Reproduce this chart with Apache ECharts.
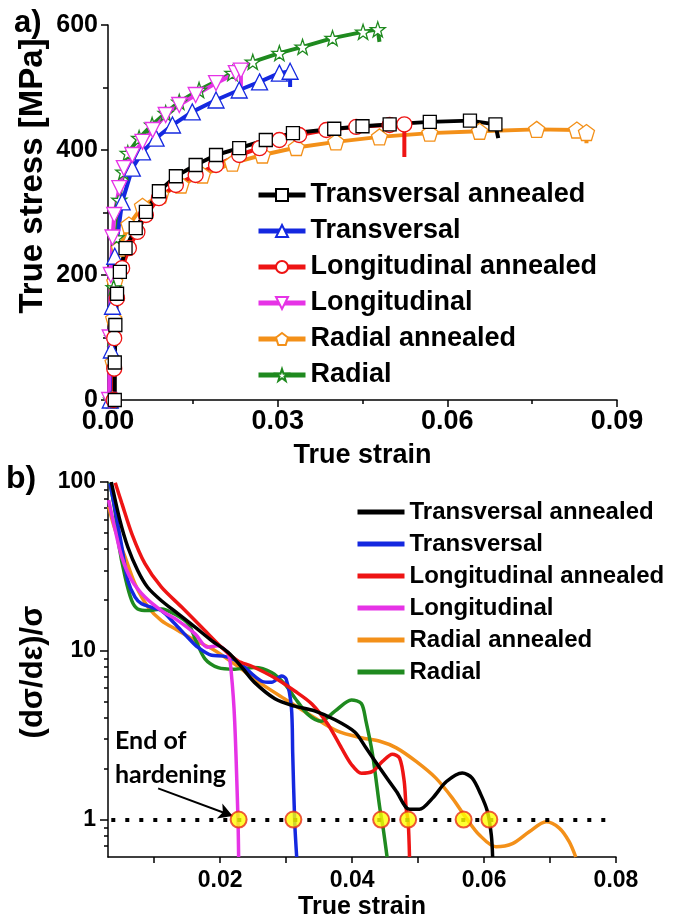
<!DOCTYPE html>
<html>
<head>
<meta charset="utf-8">
<script src="https://cdn.jsdelivr.net/npm/echarts@6/dist/echarts.min.js"></script>
<style>
html,body{margin:0;padding:0;background:#fff;}
#chart{width:697px;height:922px;}
</style>
</head>
<body>
<div id="chart"></div>
<script>
// ---------------- DATA ----------------
const seriesNames = ['Transversal annealed','Transversal','Longitudinal annealed','Longitudinal','Radial annealed','Radial'];

// Panel a) true stress [MPa] vs true strain, [strain, stress]
const stressTransAnn = [[0.0012,0],[0.0012,60],[0.0013,120],[0.0016,170],[0.0021,205],[0.0031,243],[0.0049,275],[0.0067,301],[0.009,334],[0.012,358],[0.0155,376],[0.0191,392],[0.0232,403],[0.0279,416],[0.0327,427],[0.040,434],[0.045,438],[0.0498,441],[0.0569,445],[0.064,447],[0.0685,441],[0.069,419]];
const stressTrans = [[0.0004,0],[0.0006,80],[0.0008,150],[0.0012,230],[0.0025,317],[0.0043,371],[0.0061,397],[0.0085,419],[0.0114,440],[0.0149,461],[0.0191,480],[0.0232,496],[0.0268,509],[0.0303,523],[0.0322,526],[0.0322,501]];
const stressLongAnn = [[0.0010,0],[0.0011,50],[0.0011,99],[0.0016,163],[0.0025,211],[0.0037,243],[0.0052,269],[0.0067,296],[0.009,323],[0.012,344],[0.0155,360],[0.0191,376],[0.0232,392],[0.0268,403],[0.0303,416],[0.0338,424],[0.0386,432],[0.0439,437],[0.0498,440],[0.0524,441],[0.0524,389]];
const stressLong = [[0.0002,0],[0.0003,100],[0.0005,200],[0.0008,260],[0.0011,296],[0.002,339],[0.0028,371],[0.0043,392],[0.0061,413],[0.0079,432],[0.0102,456],[0.0126,472],[0.0155,488],[0.0191,507],[0.0226,523],[0.0235,527],[0.0235,501]];
const stressRadAnn = [[0.0008,0],[0.0009,60],[0.001,130],[0.0012,189],[0.002,243],[0.0037,280],[0.0061,310],[0.0093,328],[0.0129,344],[0.0167,360],[0.022,379],[0.0273,392],[0.0333,404],[0.0403,413],[0.048,421],[0.0569,427],[0.0657,430],[0.0758,433],[0.0829,432],[0.0846,428],[0.0846,411]];
const stressRad = [[0.0006,0],[0.0008,100],[0.001,180],[0.0015,260],[0.002,320],[0.0027,365],[0.0035,395],[0.0055,419],[0.0078,440],[0.0102,459],[0.0126,477],[0.0161,496],[0.022,523],[0.0256,541],[0.0303,555],[0.0344,565],[0.0397,579],[0.0451,589],[0.0477,593],[0.048,573]];

// Panel b) (dσ/dε)/σ vs true strain, [strain, value]
const rateTransAnn = [[0.0035,100],[0.0048,59.4],[0.006,41.2],[0.0075,29.9],[0.009,23.8],[0.0111,19.8],[0.0136,16.6],[0.0162,13.8],[0.0187,11.5],[0.0212,9.8],[0.0235,7.8],[0.0252,6.5],[0.0283,5.2],[0.0313,4.7],[0.0343,4.4],[0.0374,3.9],[0.0404,3.3],[0.0421,2.66],[0.0442,2.02],[0.0467,1.47],[0.0487,1.15],[0.0502,1.15],[0.0522,1.34],[0.0543,1.68],[0.0567,1.89],[0.0582,1.76],[0.0595,1.41],[0.0605,1.12],[0.0611,0.81],[0.0613,0.6]];
const rateTrans = [[0.0033,98],[0.0041,68],[0.0051,41.2],[0.006,26.1],[0.0071,20.8],[0.0081,19],[0.0096,18.1],[0.0111,17.3],[0.0131,14.5],[0.0151,12],[0.0166,10.5],[0.0187,9.4],[0.0205,9.3],[0.0227,8.6],[0.0263,6.6],[0.0278,6.5],[0.0293,7.1],[0.0300,6.8],[0.0308,4.6],[0.0310,2.44],[0.0313,0.97],[0.0316,0.6]];
const rateLongAnn = [[0.0041,99],[0.0051,74.7],[0.0066,49.5],[0.0086,32.8],[0.0111,23.8],[0.0142,18.1],[0.0172,13.8],[0.0202,10.5],[0.0227,8.7],[0.0248,8.1],[0.0283,6.9],[0.0313,5.78],[0.0339,4.84],[0.0363,3.68],[0.0384,2.65],[0.0399,2.12],[0.0414,1.88],[0.0431,1.93],[0.0446,2.21],[0.0461,2.44],[0.0472,2.31],[0.0479,1.68],[0.0482,1.16],[0.0485,0.97],[0.0487,0.6]];
const rateLong = [[0.0031,78],[0.0041,51.8],[0.0051,35.9],[0.0066,26.1],[0.0086,20.8],[0.0111,17.3],[0.0136,15.1],[0.0162,12.6],[0.0181,10.5],[0.0196,10.7],[0.0212,9.6],[0.0217,7.3],[0.0222,3.83],[0.0227,1.01],[0.0228,0.6]];
const rateRadAnn = [[0.0031,71.3],[0.0041,51.8],[0.0056,35.9],[0.0071,24.9],[0.0091,18.1],[0.0111,15.1],[0.0136,13.2],[0.0162,11.5],[0.0187,10.3],[0.0222,8.33],[0.0263,6.34],[0.0303,5.04],[0.0343,4.01],[0.0378,3.34],[0.0414,3.05],[0.0442,2.91],[0.0467,2.66],[0.0497,2.21],[0.0527,1.76],[0.0552,1.34],[0.0573,1.02],[0.0593,0.81],[0.0618,0.69],[0.0643,0.72],[0.0669,0.85],[0.0694,0.97],[0.0714,0.89],[0.0729,0.74],[0.0739,0.6]];
const rateRad = [[0.0033,99],[0.0041,65.4],[0.0046,43.4],[0.0056,27.3],[0.0066,19.8],[0.0075,17.7],[0.0091,17.3],[0.0111,17.7],[0.0131,16.5],[0.0152,14.4],[0.0162,11.8],[0.0177,8.96],[0.0197,7.95],[0.0222,7.78],[0.0252,7.95],[0.0278,7.43],[0.0298,6.34],[0.0313,5.27],[0.0333,4.2],[0.0353,3.83],[0.0374,4.39],[0.0399,5.11],[0.0414,4.87],[0.0421,3.83],[0.0431,2.43],[0.0442,1.17],[0.0447,0.89],[0.0453,0.6]];

// End-of-hardening points (value 1)
const hardeningEndStrain = [0.0228, 0.0311, 0.0444, 0.0485, 0.0569, 0.0608];
const hardeningEndValue = 1;

// Axis ticks / labels
const strainTicksA = {min:0, max:0.09, interval:0.03};
const stressTicksA = {min:0, max:600, interval:200};
const strainLabelsB = [0.02, 0.04, 0.06, 0.08];
const strainTicksB = [0.01, 0.02, 0.03, 0.04, 0.05, 0.06, 0.07, 0.08];
const strainRangeB = [0.003, 0.08];
const rateRangeB = [0.6, 100];
const rateLabelsB = [1, 10, 100];
const rateMinorTicksB = [0.7,0.8,0.9,2,3,4,5,6,7,8,9,20,30,40,50,60,70,80,90];

// ---------------- STYLE ----------------
const colors = ['#000000','#1428e0','#ee1414','#e633e6','#f39019','#1f8a1f'];
const symbols = [
  'rect',
  'triangle',
  'circle',
  'path://M0,0 L10,0 L5,9 Z',
  'path://M5,0 L10,3.8 L8.1,10 L1.9,10 L0,3.8 Z',
  'path://M50,0 L61.8,35.1 L97.6,34.5 L69.1,56.7 L79.4,90.5 L50,70 L20.6,90.5 L30.9,56.7 L2.4,34.5 L38.2,35.1 Z'
];
const symbolSizes = [13, 16, 15, 15, 16, 15];
const FONT = '"Liberation Sans", Arial, sans-serif';

const topData = [stressTransAnn, stressTrans, stressLongAnn, stressLong, stressRadAnn, stressRad];
const botData = [rateTransAnn, rateTrans, rateLongAnn, rateLong, rateRadAnn, rateRad];
const drawOrder = [4, 5, 1, 3, 2, 0];

const series = [];
drawOrder.forEach(i => {
  const arr = topData[i];
  series.push({
    name: seriesNames[i],
    type: 'line',
    xAxisIndex: 0, yAxisIndex: 0,
    data: arr.map((p, k) => k === arr.length - 1 ? {value: p, symbol: 'none'} : p),
    symbol: symbols[i],
    symbolSize: symbolSizes[i],
    showAllSymbol: true,
    lineStyle: {color: colors[i], width: 4},
    itemStyle: {color: '#ffffff', borderColor: colors[i], borderWidth: 1.3},
    emphasis: {disabled: true},
    z: 2
  });
});
drawOrder.forEach(i => {
  series.push({
    name: seriesNames[i] + ' ',
    type: 'line',
    xAxisIndex: 1, yAxisIndex: 1,
    data: botData[i],
    symbol: 'none',
    smooth: 0.3,
    lineStyle: {color: colors[i], width: 3.5},
    itemStyle: {color: colors[i]},
    emphasis: {disabled: true},
    z: 2
  });
});
series.push({
  name: 'End of hardening',
  type: 'scatter',
  xAxisIndex: 1, yAxisIndex: 1,
  data: hardeningEndStrain.map(x => [x, hardeningEndValue]),
  symbol: 'circle',
  symbolSize: 16,
  itemStyle: {color: '#ffff00', borderColor: '#e8301c', borderWidth: 2},
  z: 5,
  markLine: {
    silent: true,
    animation: false,
    label: {show: false},
    emphasis: {disabled: true},
    data: [
      [{coord: [0.0035, 1], symbol: 'none', lineStyle: {color: '#000', width: 4, type: [4, 10]}},
       {coord: [0.0785, 1], symbol: 'none'}],
      [{coord: [0.0106, 1.53], symbol: 'none', lineStyle: {color: '#000', width: 2, type: 'solid'}},
       {coord: [0.0219, 1.05], symbol: 'arrow', symbolSize: [12, 14]}]
    ]
  }
});

const axisLine = {show: true, lineStyle: {color: '#000', width: 1.5}};
const labelStyle = (size) => ({color: '#000', fontWeight: 'bold', fontSize: size, fontFamily: FONT});

const option = {
  animation: false,
  backgroundColor: '#ffffff',
  grid: [
    {left: 108, top: 25, width: 509, height: 375},
    {left: 108, top: 482, width: 508, height: 375}
  ],
  xAxis: [
    {
      type: 'value', gridIndex: 0,
      min: strainTicksA.min, max: strainTicksA.max, interval: strainTicksA.interval,
      axisLine: Object.assign({onZero: false}, axisLine),
      axisTick: {show: true, inside: false, length: 7, lineStyle: {color: '#000', width: 1.5}},
      minorTick: {show: true, splitNumber: 2, length: 4, lineStyle: {color: '#000', width: 1.5}},
      splitLine: {show: false},
      axisLabel: Object.assign(labelStyle(27), {margin: 8, formatter: v => v.toFixed(2)}),
      name: 'True strain', nameLocation: 'middle', nameGap: 42,
      nameTextStyle: labelStyle(27)
    },
    {
      type: 'value', gridIndex: 1,
      min: strainRangeB[0], max: strainRangeB[1],
      axisLine: Object.assign({onZero: false}, axisLine),
      axisTick: {show: true, inside: false, length: 6, customValues: strainTicksB, lineStyle: {color: '#000', width: 1.5}},
      splitLine: {show: false},
      axisLabel: Object.assign(labelStyle(23), {margin: 12, customValues: strainLabelsB, formatter: v => v.toFixed(2)}),
      name: 'True strain', nameLocation: 'middle', nameGap: 38,
      nameTextStyle: labelStyle(25)
    }
  ],
  yAxis: [
    {
      type: 'value', gridIndex: 0,
      min: stressTicksA.min, max: stressTicksA.max, interval: stressTicksA.interval,
      axisLine: axisLine,
      axisTick: {show: true, inside: false, length: 7, lineStyle: {color: '#000', width: 1.5}},
      minorTick: {show: true, splitNumber: 2, length: 5, lineStyle: {color: '#000', width: 1.5}},
      splitLine: {show: false},
      axisLabel: Object.assign(labelStyle(25), {margin: 10})
    },
    {
      type: 'log', gridIndex: 1, logBase: 10,
      min: rateRangeB[0], max: rateRangeB[1],
      axisLine: axisLine,
      axisTick: {show: true, inside: false, length: 8, customValues: rateLabelsB, lineStyle: {color: '#000', width: 1.5}},
      splitLine: {show: false},
      minorTick: {show: false},
      axisLabel: Object.assign(labelStyle(23), {margin: 12, customValues: rateLabelsB})
    },
    {
      type: 'log', gridIndex: 1, logBase: 10,
      min: rateRangeB[0], max: rateRangeB[1],
      position: 'left',
      axisLine: {show: false},
      axisTick: {show: true, inside: false, length: 4, customValues: rateMinorTicksB, lineStyle: {color: '#000', width: 1.5}},
      splitLine: {show: false},
      axisLabel: {show: false}
    }
  ],
  legend: [
    {
      data: seriesNames,
      orient: 'vertical', left: 251, top: 176,
      itemWidth: 47, itemHeight: 15, itemGap: 8,
      selectedMode: false,
      lineStyle: {width: 5},
      textStyle: {color: '#000', fontWeight: 'bold', fontSize: 27, lineHeight: 28, fontFamily: FONT}
    },
    {
      data: seriesNames.map(n => n + ' '),
      formatter: n => n.trim(),
      orient: 'vertical', left: 350, top: 494,
      itemWidth: 47, itemHeight: 8, itemGap: 6,
      selectedMode: false,
      lineStyle: {width: 5},
      itemStyle: {color: 'rgba(0,0,0,0)', borderWidth: 0, opacity: 0},
      textStyle: {color: '#000', fontWeight: 'bold', fontSize: 24, lineHeight: 26, fontFamily: FONT}
    }
  ],
  graphic: [
    {type: 'text', left: 14, top: 8, style: {text: 'a)', font: 'bold 31px ' + FONT, fill: '#000'}},
    {type: 'text', left: 6, top: 463, style: {text: 'b)', font: 'bold 32px ' + FONT, fill: '#000'}},
    {type: 'text', x: 33, y: 176, rotation: Math.PI / 2,
     style: {text: 'True stress [MPa]', font: 'bold 33px ' + FONT, fill: '#000', align: 'center', verticalAlign: 'middle'}},
    {type: 'text', x: 33, y: 672, rotation: Math.PI / 2,
     style: {text: '(dσ/dε)/σ', font: 'bold 31px ' + FONT, fill: '#000', align: 'center', verticalAlign: 'middle'}},
    {type: 'text', left: 115, top: 724,
     style: {text: 'End of\nhardening', font: 'bold 25px Lato, ' + FONT, lineHeight: 34, fill: '#000'}}
  ],
  series: series
};

const chart = echarts.init(document.getElementById('chart'), null, {renderer: 'canvas'});
chart.setOption(option);
</script>
</body>
</html>
